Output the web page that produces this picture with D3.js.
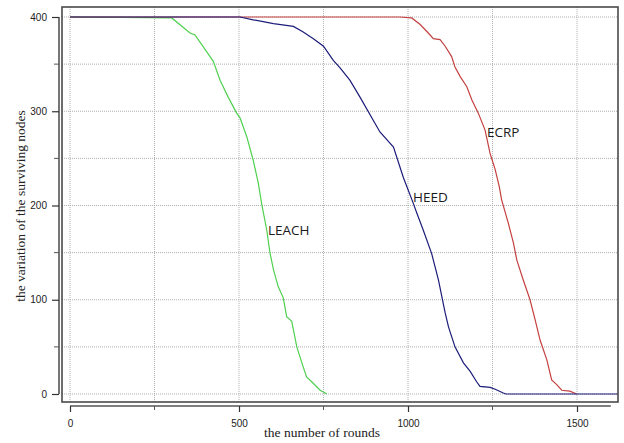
<!DOCTYPE html>
<html>
<head>
<meta charset="utf-8">
<script src="https://cdn.jsdelivr.net/npm/d3@7"></script>
<style>
  body { margin: 0; background: #fff; }
  svg { display: block; }
</style>
</head>
<body>
<svg id="chart" width="624" height="443"></svg>
<script>
// rounds / surviving nodes
const leachRounds = [0, 301, 355, 370, 424, 444, 468, 493, 503, 523, 542, 557, 567, 582, 592, 602, 616, 631, 641, 656, 671, 686, 700, 715, 740, 755, 760];
const leachNodes  = [400, 399, 383, 381, 353, 333, 315, 298, 293, 273, 248, 224, 202, 174, 149, 132, 114, 102, 82, 77, 50, 33, 18, 13, 4, 1, 0];

const heedRounds = [0, 503, 542, 602, 661, 690, 720, 750, 779, 799, 828, 858, 917, 957, 986, 1016, 1026, 1045, 1070, 1090, 1110, 1120, 1139, 1164, 1184, 1203, 1213, 1243, 1258, 1282, 1290, 1622];
const heedNodes  = [400, 400, 397, 393, 390, 384, 377, 369, 354, 346, 333, 315, 278, 262, 230, 202, 192, 174, 149, 121, 86, 71, 50, 33, 24, 13, 8, 7, 5, 1, 0, 0];

const ecrpRounds = [0, 976, 1011, 1036, 1060, 1075, 1095, 1110, 1129, 1139, 1154, 1174, 1189, 1208, 1228, 1243, 1258, 1270, 1277, 1297, 1312, 1322, 1341, 1361, 1376, 1391, 1411, 1425, 1440, 1455, 1479, 1499];
const ecrpNodes  = [400, 400, 399, 392, 383, 377, 376, 369, 358, 347, 337, 326, 312, 298, 280, 255, 238, 220, 206, 181, 160, 142, 121, 100, 79, 57, 36, 15, 10, 4, 3, 0];

const seriesNames = ["LEACH", "ECRP", "HEED"];
const seriesColors = ["#4fd04f", "#c44040", "#1c1c7a"];
const labelAt = [[268, 235], [487, 137], [413, 202]];

const xTicks = [0, 500, 1000, 1500];
const xMinor = [250, 750, 1250];
const yTicks = [0, 100, 200, 300, 400];
const yMinor = [50, 150, 250, 350];

const svg = d3.select("#chart");

const x = d3.scaleLinear().domain([0, 1500]).range([70, 577]);
const y = d3.scaleLinear().domain([0, 400]).range([394, 17]);

// plot frame
const fx0 = 62, fx1 = 618, fy0 = 7, fy1 = 402;

// grid (dotted)
const grid = svg.append("g");
grid.selectAll(".gx")
  .data(d3.range(0, 1751, 250))
  .enter()
  .append("line")
  .attr("x1", d => x(d)).attr("x2", d => x(d))
  .attr("y1", fy0).attr("y2", fy1)
  .attr("stroke", "#b0b0b0")
  .attr("stroke-dasharray", "1,1");
grid.selectAll(".gy")
  .data(d3.range(0, 401, 50))
  .enter()
  .append("line")
  .attr("y1", d => y(d)).attr("y2", d => y(d))
  .attr("x1", fx0).attr("x2", fx1)
  .attr("stroke", "#b0b0b0")
  .attr("stroke-dasharray", "1,1");

// lines
const line = d3.line().x(d => x(d[0])).y(d => y(d[1]));
const series = [
  d3.zip(leachRounds, leachNodes),
  d3.zip(ecrpRounds, ecrpNodes),
  d3.zip(heedRounds, heedNodes)
];
series.forEach((s, i) => {
  svg.append("path")
    .datum(s)
    .attr("fill", "none")
    .attr("stroke", seriesColors[i])
    .attr("stroke-width", 1.2)
    .attr("d", line);
});

svg.append("rect")
  .attr("x", fx0).attr("y", fy0)
  .attr("width", fx1 - fx0).attr("height", fy1 - fy0)
  .attr("fill", "none")
  .attr("stroke", "#4a4a4a")
  .attr("stroke-width", 1.6);

// series labels
svg.selectAll(".lbl")
  .data(seriesNames)
  .enter()
  .append("text")
  .attr("x", (d, i) => labelAt[i][0])
  .attr("y", (d, i) => labelAt[i][1])
  .attr("font-family", "'Open Sans', sans-serif")
  .attr("font-size", 13.5)
  .attr("fill", "#1a1a1a")
  .text(d => d);

// axes
const tickFont = "'Liberation Sans Narrow', 'Liberation Sans', sans-serif";
const fmt = d3.format("d");

const yAxis = svg.append("g").attr("transform", "translate(59,0)")
  .call(d3.axisLeft(y).tickValues(yTicks).tickFormat(fmt).tickSize(7).tickPadding(5));
yAxis.append("g").selectAll("line")
  .data(yMinor).enter().append("line")
  .attr("x1", -5).attr("x2", 0)
  .attr("y1", d => y(d)).attr("y2", d => y(d))
  .attr("stroke", "#555");

const xAxis = svg.append("g").attr("transform", "translate(0,406)")
  .call(d3.axisBottom(x).tickValues(xTicks).tickFormat(fmt).tickSize(6).tickPadding(8));
xAxis.append("g").selectAll("line")
  .data(xMinor).enter().append("line")
  .attr("y1", 0).attr("y2", 4)
  .attr("x1", d => x(d)).attr("x2", d => x(d))
  .attr("stroke", "#555");

xAxis.select(".domain").attr("d", `M${x(0)},0H${x(1600)}`);
yAxis.select(".domain").attr("d", `M0,${y(0)}V${y(400)}`);

[xAxis, yAxis].forEach(a => {
  a.select(".domain").attr("stroke", "#555").attr("stroke-width", 1.6);
  a.selectAll(".tick line").attr("stroke", "#333").attr("stroke-width", 1.2);
  a.selectAll(".tick text")
    .attr("font-family", tickFont)
    .attr("font-size", 10)
    .attr("fill", "#222");
});

// axis titles
svg.append("text")
  .attr("x", 322).attr("y", 437)
  .attr("text-anchor", "middle")
  .attr("font-family", "'Liberation Serif', 'Times New Roman', serif")
  .attr("font-size", 13.5)
  .attr("fill", "#222")
  .text("the number of rounds");

svg.append("text")
  .attr("transform", "translate(25,206) rotate(-90)")
  .attr("text-anchor", "middle")
  .attr("font-family", "'Liberation Serif', 'Times New Roman', serif")
  .attr("font-size", 13.5)
  .attr("fill", "#222")
  .text("the variation of the surviving nodes");
</script>
</body>
</html>
